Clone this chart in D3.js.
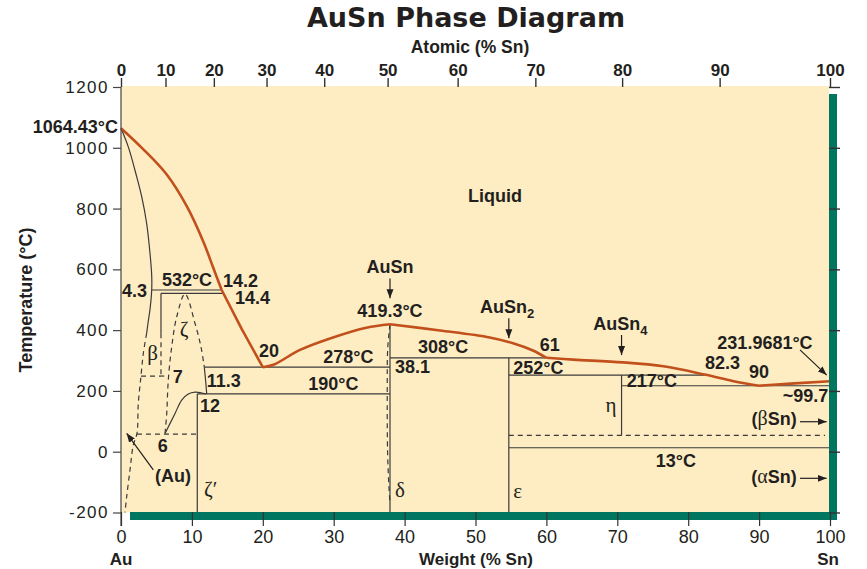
<!DOCTYPE html>
<html><head><meta charset="utf-8">
<script src="https://cdn.jsdelivr.net/npm/d3@7/dist/d3.min.js"></script>
<style>body{margin:0;background:#fff}svg{display:block}</style>
</head><body>
<svg id="chart" width="867" height="569"></svg>
<script>
// ---------- data (weight % Sn, temperature °C) ----------
const weightTicks = [0,10,20,30,40,50,60,70,80,90,100];
const atomicTicks = [0,10,20,30,40,50,60,70,80,90,100];
const tempTicks = [-200,0,200,400,600,800,1000,1200];

const liquidusAu    = [[0,1064.43],[3.15,995],[6.45,912],[9.27,808],[11.6,692],[13.0,606],[14.2,532]];
const liquidusZeta  = [[14.2,532],[17,405],[20,278]];
const liquidusDelta = [[20,278],[21.5,286],[25.25,335],[29.9,376],[34.6,408],[37.94,419.3]];
const liquidusEps   = [[37.94,419.3],[45,399],[52,376],[55.3,357],[58.1,333],[60,309]];
const liquidusEta   = [[60,309],[63.8,303],[70.8,294],[76.5,281],[82.3,254],[86.4,232],[90,217]];
const liquidusSn    = [[90,217],[95,225],[100,231.97]];

const solidusAu   = [[0,1064.43],[1.03,1003],[2.21,905],[2.92,839],[3.62,751],[4.09,653],[4.33,580],[4.33,532],[4.1,470],[3.85,430],[3.62,390]];
const solvusAu    = [[3.62,390],[3.15,324],[2.82,249],[2.44,159],[2.25,60],[1.73,22],[1.27,-60],[0.8,-148],[0.56,-200]];
const zetaDome    = [[6.21,60],[6.45,126],[6.67,236],[7.15,345],[7.86,444],[9.03,519],[10.44,422],[11.28,345],[11.75,278]];
const zetaRight   = [[11.75,278],[11.95,230],[12.09,190]];
const zetaPrime   = [[6.21,60],[7.62,126],[8.56,170],[9.49,190],[10.44,196],[11.28,194],[12.0,190]];
const deltaDashed = [[37.94,419.3],[37.62,340],[37.55,200],[37.6,0],[37.8,-120],[37.94,-170]];

// horizontal lines: [x1, x2, T]
const solidIsotherms  = [[4.33,14.2,532],[5.64,14.45,521],[11.75,37.94,278],[10.76,37.94,190],[37.94,60,309],[54.7,82.3,252],[70.6,100,217],[54.7,100,13],[5.64,6.1,249]];
const dashedIsotherms = [[2.25,10.76,58],[2.82,5.64,249],[54.7,99.3,54]];
// vertical lines: [x, T1, T2]
const solidVerticals  = [[10.76,190,-200],[37.94,419.3,-200],[54.7,309,-200],[70.6,252,54],[5.64,521,390]];
const dashedVerticals = [[5.64,390,249]];

// text labels: [text, x (wt%), T, anchor]
const boldLabels = [
  ["Liquid",52.75,821,"middle"],["4.3",3.67,510,"end"],["532°C",9.31,545,"middle"],
  ["14.2",14.39,543,"start"],["14.4",16.08,485,"start"],["20",19.46,310,"start"],
  ["278°C",32.06,291,"middle"],["11.3",12.09,214,"start"],["190°C",29.94,203,"middle"],
  ["12",11.14,131,"start"],["7",7.29,227,"start"],["6",5.9,0,"middle"],["(Au)",7.33,-99,"middle"],
  ["AuSn",37.94,589,"middle"],["419.3°C",37.94,444,"middle"],["308°C",45.42,326,"middle"],
  ["38.1",38.65,258,"start"],["61",60.46,332,"middle"],["252°C",55.33,255.6,"start"],
  ["231.9681°C",90.83,337,"middle"],["82.3",84.84,271,"middle"],["90",89.99,241.5,"middle"],
  ["217°C",71.33,212,"start"],["~99.7",99.76,164.5,"end"],["13°C",78.25,-49,"middle"]
];
const subLabels = [["AuSn","2",50.63,455],["AuSn","4",66.6,400]];
const greekLabels = [["β",4.44,302,"middle"],["ζ",8.89,381,"middle"],["ζ′",11.7,-146,"start"],
  ["δ",38.65,-148,"start"],["ε",55.33,-153,"start"],["η",69.1,130.6,"middle"]];
const phaseSnLabels = [["(","β","Sn)",95.3,88],["(","α","Sn)",95.3,-104]];
// arrows: [x1,T1,x2,T2]
const arrows = [[37.94,570,37.94,505],[54.7,439,54.7,373],[70.6,384,70.6,318],[95.77,335,99.53,252],
  [95.77,98.7,99.53,98.7],[95.77,-87.5,99.53,-87.5],[4.56,-60,0.8,60.5]];

// ---------- drawing ----------
const svg = d3.select("#chart");
const INK = "#231f20", ORANGE = "#c2501c", GREEN = "#007560", BG = "#feedc3";
const x = d3.scaleLinear().domain([0,100]).range([121,830]);
const y = d3.scaleLinear().domain([-200,1200]).range([512.5,87]);
const at2wt = a => 100*a*118.71/(a*118.71+(100-a)*196.97);
const xTop = d3.scaleLinear().domain(atomicTicks).range(atomicTicks.map(a => x(at2wt(a))));

svg.append("rect").attr("x",x(0)).attr("y",y(1200)-1).attr("width",829-x(0)).attr("height",y(-200)-y(1200)+1).attr("fill",BG);

const line = d3.line().x(d=>x(d[0])).y(d=>y(d[1]));
const smooth = d3.line().x(d=>x(d[0])).y(d=>y(d[1])).curve(d3.curveCatmullRom.alpha(0.5));
const g = svg.append("g");
function path(data, gen, dashed){
  const p = g.append("path").datum(data).attr("d",gen).attr("fill","none").attr("stroke","#3a3a3a").attr("stroke-width",1.2);
  if(dashed) p.attr("stroke-dasharray","5,4");
  return p;
}
solidIsotherms.forEach(d=>path([[d[0],d[2]],[d[1],d[2]]],line,false));
dashedIsotherms.forEach(d=>path([[d[0],d[2]],[d[1],d[2]]],line,true));
solidVerticals.forEach(d=>path([[d[0],d[1]],[d[0],d[2]]],line,false));
dashedVerticals.forEach(d=>path([[d[0],d[1]],[d[0],d[2]]],line,true));
path(solidusAu,smooth,false);
path(solvusAu,smooth,true);
path(zetaDome,smooth,true);
path(zetaRight,smooth,false);
path(zetaPrime,smooth,false);
path(deltaDashed,smooth,true);

[liquidusAu,liquidusZeta,liquidusDelta,liquidusEps,liquidusEta,liquidusSn].forEach(seg=>{
  g.append("path").datum(seg).attr("d",seg.length>3?smooth:line).attr("fill","none")
   .attr("stroke",ORANGE).attr("stroke-width",2.6).attr("stroke-linejoin","round");
});

// green frame bars
svg.append("rect").attr("x",829).attr("y",94).attr("width",8).attr("height",426).attr("fill",GREEN);
svg.append("rect").attr("x",130).attr("y",512).attr("width",707).attr("height",8).attr("fill",GREEN);

// axes
const axisFont = "'Liberation Sans', Arial, sans-serif";
const axLeft = svg.append("g").attr("transform","translate(121,0)")
  .call(d3.axisLeft(y).tickValues(tempTicks).tickSize(8).tickPadding(4).tickFormat(d => String(d)));
axLeft.select(".domain").remove();
axLeft.selectAll("line").attr("stroke","#444").attr("stroke-width",1.2);
axLeft.selectAll("text").attr("font-family",axisFont).attr("font-size",17).attr("letter-spacing",1.5).attr("fill",INK);
svg.append("line").attr("x1",121).attr("x2",121).attr("y1",87).attr("y2",526).attr("stroke","#444").attr("stroke-width",1.2);

const axRight = svg.append("g").attr("transform","translate(829,0)")
  .call(d3.axisRight(y).tickValues(tempTicks).tickSize(11).tickFormat(""));
axRight.select(".domain").remove();
axRight.selectAll("line").attr("stroke","#333").attr("stroke-width",1.4);

const axBottom = svg.append("g").attr("transform","translate(0,512)")
  .call(d3.axisBottom(x).tickValues(weightTicks).tickSize(14).tickFormat(d => String(d)));
axBottom.select(".domain").remove();
axBottom.selectAll("line").attr("stroke","#333").attr("stroke-width",1.2);
axBottom.selectAll("text").attr("y",31).attr("dy",0).attr("font-family","'Liberation Sans Narrow', 'Liberation Sans', Arial, sans-serif")
  .attr("font-size",18).attr("fill",INK);

const axTop = svg.append("g").attr("transform","translate(0,87)")
  .call(d3.axisTop(xTop).tickValues(atomicTicks).tickSize(9).tickPadding(2).tickFormat(d => String(d)));
axTop.select(".domain").remove();
axTop.selectAll("line").attr("stroke","#333").attr("stroke-width",1.4);
axTop.selectAll("text").attr("font-family",axisFont).attr("font-weight","bold").attr("font-size",17).attr("fill",INK);

// titles
function txt(s,px,py,opts){
  const t = svg.append("text").attr("x",px).attr("y",py).text(s).attr("fill",INK)
    .attr("font-family",axisFont).attr("font-weight","bold").attr("font-size",18).attr("text-anchor","middle");
  Object.entries(opts||{}).forEach(([k,v])=>t.attr(k,v));
  return t;
}
txt("AuSn Phase Diagram",466,27,{"font-family":"'DejaVu Sans', sans-serif","font-size":27});
txt("Atomic (% Sn)",470,53,{"font-size":17.5});
txt("Weight (% Sn)",476,565,{"font-size":17});
txt("Au",121,565,{"font-size":17});
txt("Sn",828,565,{"font-size":17});
txt("Temperature (°C)",0,0,{"font-size":18,"transform":"translate(32,300) rotate(-90)"});
txt("1064.43°C",118,y(1049.6),{"text-anchor":"end"});

// in-plot labels
const lab = svg.append("g").attr("font-family",axisFont).attr("font-weight","bold").attr("font-size",18).attr("fill",INK);
boldLabels.forEach(d=>lab.append("text").attr("x",x(d[1])).attr("y",y(d[2])).attr("text-anchor",d[3]).text(d[0]));
subLabels.forEach(d=>{
  const t = lab.append("text").attr("x",x(d[2])).attr("y",y(d[3]));
  t.append("tspan").text(d[0]);
  t.append("tspan").attr("dy",5).attr("font-size",13).text(d[1]);
});
phaseSnLabels.forEach(d=>{
  const t = lab.append("text").attr("x",x(d[3])).attr("y",y(d[4])).attr("text-anchor","end");
  t.append("tspan").text(d[0]);
  t.append("tspan").attr("font-family","'Liberation Serif', serif").attr("font-weight","normal").attr("font-size",20).text(d[1]);
  t.append("tspan").text(d[2]);
});
const gr = svg.append("g").attr("font-family","'Liberation Serif', 'DejaVu Serif', serif").attr("font-size",21).attr("fill",INK);
greekLabels.forEach(d=>gr.append("text").attr("x",x(d[1])).attr("y",y(d[2])).attr("text-anchor",d[3]).text(d[0]));

// arrows
svg.append("defs").append("marker").attr("id","ah").attr("viewBox","0 -4 9 8").attr("refX",9).attr("refY",0)
  .attr("markerWidth",9).attr("markerHeight",8).attr("markerUnits","userSpaceOnUse").attr("orient","auto")
  .append("path").attr("d","M0,-3.5L9,0L0,3.5Z").attr("fill",INK);
arrows.forEach(d=>svg.append("line").attr("x1",x(d[0])).attr("y1",y(d[1])).attr("x2",x(d[2])).attr("y2",y(d[3]))
  .attr("stroke",INK).attr("stroke-width",1.2).attr("marker-end","url(#ah)"));
</script>
</body></html>
